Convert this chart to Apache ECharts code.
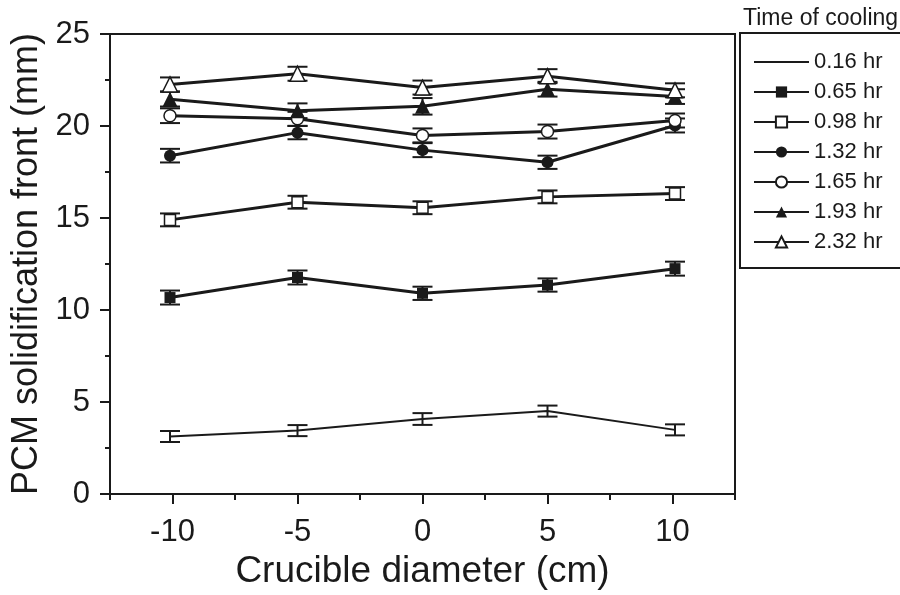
<!DOCTYPE html>
<html>
<head>
<meta charset="utf-8">
<script src="https://cdn.jsdelivr.net/npm/echarts@6/dist/echarts.min.js"></script>
<style>
  html, body { margin: 0; padding: 0; background: #fff; }
  #main { width: 900px; height: 595px; }
</style>
</head>
<body>
<div id="main"></div>
<script>
// crucible diameter positions (points sit slightly off the end ticks in the original)
var xPos = [-10.1, -5, 0, 5, 10.1];
var xMajorTicks = [-10, -5, 0, 5, 10];
var xMinorTicks = [-12.5, -7.5, -2.5, 2.5, 7.5, 12.5];

var names = ['0.16 hr', '0.65 hr', '0.98 hr', '1.32 hr', '1.65 hr', '1.93 hr', '2.32 hr'];

// solidification front (mm)
var v016 = [3.13, 3.45, 4.08, 4.51, 3.49];
var v065 = [10.68, 11.77, 10.91, 11.36, 12.25];
var v098 = [14.90, 15.86, 15.56, 16.15, 16.33];
var v132 = [18.39, 19.64, 18.69, 18.03, 20.03];
var v165 = [20.56, 20.39, 19.49, 19.70, 20.30];
var v193 = [21.46, 20.83, 21.07, 22.00, 21.60];
var v232 = [22.26, 22.84, 22.09, 22.71, 21.94];

// error bar half heights (mm)
var e016 = [0.30, 0.30, 0.32, 0.30, 0.30];
var e065 = [0.38, 0.38, 0.36, 0.36, 0.38];
var e098 = [0.35, 0.35, 0.35, 0.35, 0.35];
var e132 = [0.37, 0.36, 0.38, 0.36, 0.38];
var e165 = [0.40, 0.38, 0.38, 0.38, 0.38];
var e193 = [0.40, 0.40, 0.45, 0.40, 0.40];
var e232 = [0.38, 0.38, 0.38, 0.38, 0.38];

var values = [v016, v065, v098, v132, v165, v193, v232];
var errors = [e016, e065, e098, e132, e165, e193, e232];
var symbols = ['none', 'rect', 'rect', 'circle', 'circle', 'triangle', 'triangle'];
var symbolSizes = [1, 11, 11, 12, 12, 15, 15];
var hollow = [false, false, true, false, true, false, true];

var ink = '#1a1a1a';
var font = "'Liberation Sans', Arial, sans-serif";

var series = [];
names.forEach(function (name, i) {
    var pts = xPos.map(function (x, j) { return [x, values[i][j]]; });
    series.push({
        name: name,
        type: 'line',
        data: pts,
        symbol: symbols[i],
        symbolSize: symbolSizes[i],
        lineStyle: { color: ink, width: i === 0 ? 2 : 3 },
        itemStyle: hollow[i]
            ? { color: '#fff', borderColor: ink, borderWidth: 1.5 }
            : { color: ink, borderColor: ink, borderWidth: 0 },
        z: 3,
        animation: false
    });
    var errData = xPos.map(function (x, j) {
        return [x, values[i][j] - errors[i][j], values[i][j] + errors[i][j]];
    });
    series.push({
        type: 'custom',
        data: errData,
        z: 2,
        silent: true,
        animation: false,
        renderItem: function (params, api) {
            var x = api.value(0);
            var lo = api.coord([x, api.value(1)]);
            var hi = api.coord([x, api.value(2)]);
            var w = 10;
            var st = { stroke: ink, lineWidth: 2 };
            return {
                type: 'group',
                children: [
                    { type: 'line', shape: { x1: lo[0], y1: lo[1], x2: hi[0], y2: hi[1] }, style: st },
                    { type: 'line', shape: { x1: lo[0] - w, y1: lo[1], x2: lo[0] + w, y2: lo[1] }, style: st },
                    { type: 'line', shape: { x1: hi[0] - w, y1: hi[1], x2: hi[0] + w, y2: hi[1] }, style: st }
                ]
            };
        }
    });
});

var legendData = names.map(function (n, i) {
    return i === 0 ? { name: n, itemStyle: { opacity: 0 }, lineStyle: { opacity: 1, color: ink, width: 2 } } : { name: n };
});

var myChart = echarts.init(document.getElementById('main'));
myChart.setOption({
    backgroundColor: '#fff',
    textStyle: { fontFamily: font },
    title: {
        text: 'Time of cooling',
        left: 738,
        top: 2,
        textStyle: { fontFamily: font, fontSize: 23, fontWeight: 'normal', color: ink }
    },
    legend: {
        data: legendData,
        orient: 'vertical',
        left: 740,
        top: 33,
        itemWidth: 55,
        itemHeight: 14,
        itemGap: 8,
        padding: [18, 40, 15, 13],
        borderColor: ink,
        borderWidth: 2,
        textStyle: { fontFamily: font, fontSize: 22, color: ink }
    },
    grid: {
        left: 110,
        right: 165,
        top: 34,
        bottom: 95,
        show: true,
        borderColor: ink,
        borderWidth: 2,
        backgroundColor: 'transparent'
    },
    xAxis: [{
        type: 'value',
        min: -12.5,
        max: 12.5,
        interval: 2.5,
        name: 'Crucible diameter (cm)',
        nameLocation: 'middle',
        nameGap: 52,
        nameTextStyle: { fontFamily: font, fontSize: 37, color: ink },
        axisLine: { show: true, onZero: false, lineStyle: { color: ink, width: 2 } },
        axisTick: { show: true, customValues: xMajorTicks, length: 10, lineStyle: { color: ink, width: 2 } },
        axisLabel: { customValues: xMajorTicks, margin: 23, fontSize: 31, color: ink, fontFamily: font },
        splitLine: { show: false }
    }, {
        type: 'value',
        min: -12.5,
        max: 12.5,
        interval: 2.5,
        position: 'bottom',
        axisLine: { show: true, onZero: false, lineStyle: { color: ink, width: 2 } },
        axisTick: { show: true, customValues: xMinorTicks, length: 6, lineStyle: { color: ink, width: 2 } },
        axisLabel: { show: false },
        splitLine: { show: false }
    }],
    yAxis: {
        type: 'value',
        min: 0,
        max: 25,
        interval: 5,
        name: 'PCM solidification front (mm)',
        nameLocation: 'middle',
        nameGap: 62,
        nameTextStyle: { fontFamily: font, fontSize: 36, color: ink },
        axisLine: { show: true, onZero: false, lineStyle: { color: ink, width: 2 } },
        axisTick: { show: true, length: 10, lineStyle: { color: ink, width: 2 } },
        minorTick: { show: true, splitNumber: 2, length: 5, lineStyle: { color: ink, width: 2 } },
        axisLabel: { margin: 20, fontSize: 31, color: ink, fontFamily: font },
        splitLine: { show: false },
        minorSplitLine: { show: false }
    },
    series: series
});
</script>
</body>
</html>
